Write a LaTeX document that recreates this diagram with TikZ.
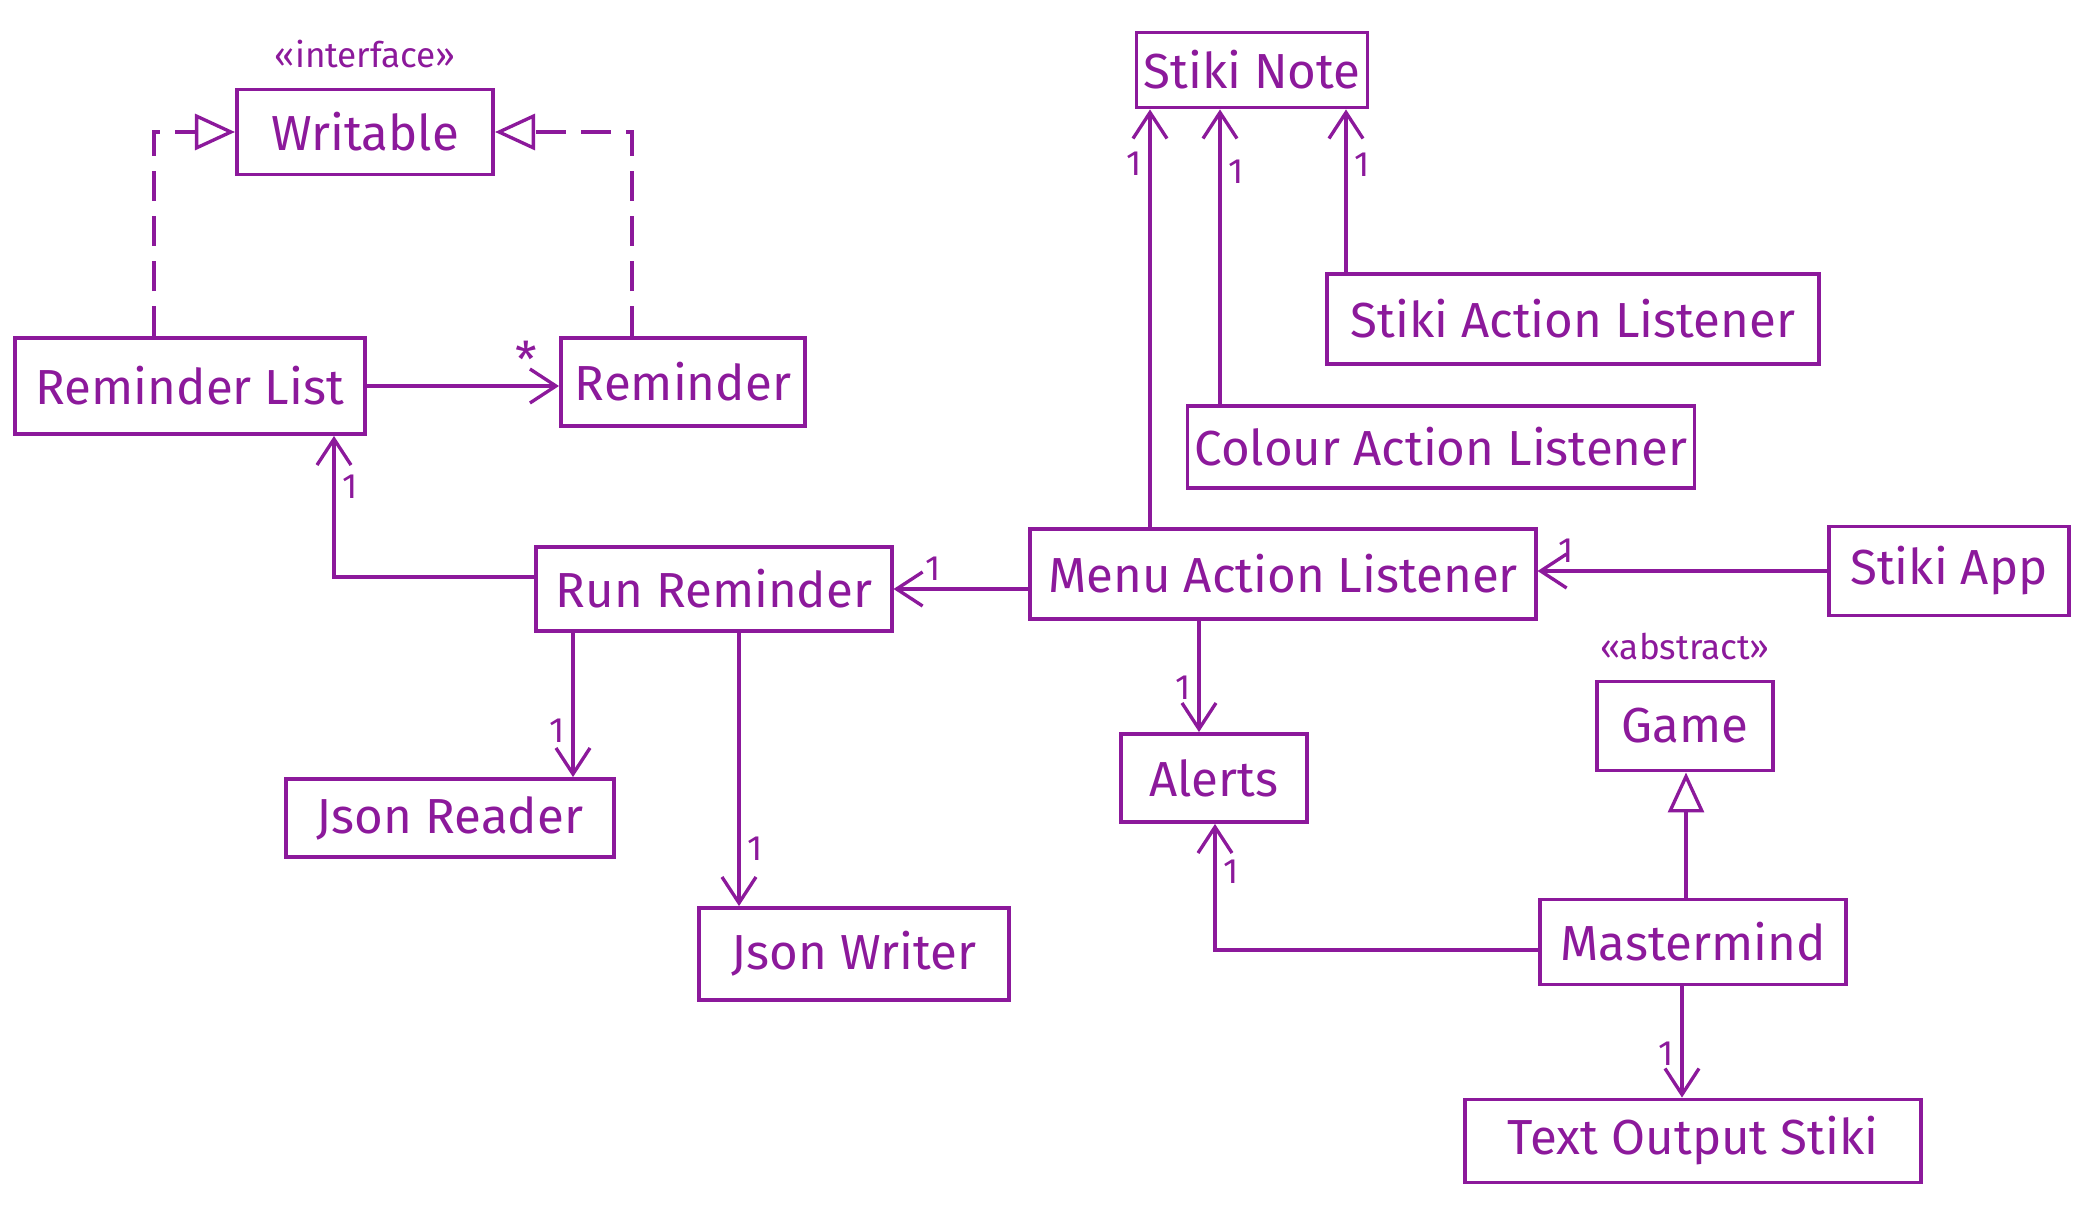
\documentclass[tikz,border=0pt]{standalone}
\usepackage{fontspec}
\setmainfont{Fira Sans}
\usetikzlibrary{arrows.meta,positioning}
\definecolor{umlpurple}{RGB}{140,25,155}

\begin{document}
\begin{tikzpicture}[x=0.01cm,y=-0.01cm]
        \tikzstyle{cls}=[draw=umlpurple, line width=1.1pt, text=umlpurple, inner sep=2pt, font=\fontsize{14}{17}\selectfont]
        \tikzstyle{stereo}=[text=umlpurple, inner sep=1pt, font=\fontsize{10}{12}\selectfont]
        \tikzstyle{mult}=[text=umlpurple, inner sep=2pt, font=\fontsize{10}{12}\selectfont]
        \tikzstyle{assoc}=[draw=umlpurple, line width=0.95pt, -{Straight Barb[length=2.6mm,width=3.4mm]}]
        \tikzstyle{inherit}=[draw=umlpurple, line width=0.95pt, -{Triangle[open,length=4mm,width=3.6mm,fill=white]}]
        \tikzstyle{real}=[inherit, dash pattern=on 3mm off 1.5mm]
        \useasboundingbox (0,0) rectangle (2096,1224);

        % reminder side
        \node[cls, minimum width=2.56cm, minimum height=0.85cm] (writable) at (365,132) {Writable};
        \node[stereo, above=1.5mm of writable] (writablest) {«interface»};
        \node[cls, minimum width=3.49cm, minimum height=0.96cm] (rlist) at (190,386) {Reminder List};
        \node[cls, minimum width=2.44cm, minimum height=0.88cm] (rem) at (683,382) {Reminder};
        \node[cls, minimum width=3.55cm, minimum height=0.84cm] (run) at (714,589) {Run Reminder};
        \node[cls, minimum width=3.27cm, minimum height=0.78cm] (jreader) at (450,818) {Json Reader};
        \node[cls, minimum width=3.10cm, minimum height=0.92cm] (jwriter) at (854,954) {Json Writer};

        % stiki side
        \node[cls, minimum width=2.27cm, minimum height=0.75cm] (note) at (1252,70) {Stiki Note};
        \node[cls, minimum width=4.92cm, minimum height=0.90cm] (sal) at (1573,319) {Stiki Action Listener};
        \node[cls, minimum width=5.00cm, minimum height=0.82cm] (cal) at (1441,447) {Colour Action Listener};
        \node[cls, minimum width=5.05cm, minimum height=0.90cm] (mal) at (1283,574) {Menu Action Listener};
        \node[cls, minimum width=2.40cm, minimum height=0.89cm] (app) at (1949,571) {Stiki App};
        \node[cls, minimum width=1.86cm, minimum height=0.88cm] (alerts) at (1214,778) {Alerts};
        \node[cls, minimum width=1.76cm, minimum height=0.89cm] (game) at (1685,726) {Game};
        \node[stereo, above=1.5mm of game] (gamest) {«abstract»};
        \node[cls, minimum width=3.05cm, minimum height=0.85cm] (mmind) at (1693,942) {Mastermind};
        \node[cls, minimum width=4.55cm, minimum height=0.83cm] (tos) at (1693,1141) {Text Output Stiki};

        % realization and inheritance
        \draw[real] (154,0 |- rlist.north) |- (writable.west);
        \draw[real] (632,0 |- rem.north) |- (writable.east);
        \draw[inherit] (1686,0 |- mmind.north) -- (1686,0 |- game.south);

        % associations
        \draw[assoc] (rlist.east) -- node[mult, pos=0.83, above, font=\fontsize{14}{16}\selectfont] {*} (rlist.east -| rem.west);
        \draw[assoc] ([yshift=1.2mm]run.west) -| node[mult, pos=0.82, right] {1} (334,0 |- rlist.south);
        \draw[assoc] (run.east -| mal.west) -- node[mult, pos=0.71, above] {1} (run.east);
        \draw[assoc] (app.west) -- node[mult, pos=0.9, above] {1} (app.west -| mal.east);
        \draw[assoc] (1150,0 |- mal.north) -- node[mult, pos=0.87, left] {1} (1150,0 |- note.south);
        \draw[assoc] (1220,0 |- cal.north) -- node[mult, pos=0.79, right] {1} (1220,0 |- note.south);
        \draw[assoc] (1346,0 |- sal.north) -- node[mult, pos=0.66, right] {1} (1346,0 |- note.south);
        \draw[assoc] (1199,0 |- mal.south) -- node[mult, pos=0.6, left] {1} (1199,0 |- alerts.north);
        \draw[assoc] (573,0 |- run.south) -- node[mult, pos=0.68, left] {1} (573,0 |- jreader.north);
        \draw[assoc] (739,0 |- run.south) -- node[mult, pos=0.79, right] {1} (739,0 |- jwriter.north);
        \draw[assoc] ([yshift=-0.8mm]mmind.west) -| node[mult, pos=0.81, right] {1} (1215,0 |- alerts.south);
        \draw[assoc] (1682,0 |- mmind.south) -- node[mult, pos=0.61, left] {1} (1682,0 |- tos.north);
    \end{tikzpicture}
\end{document}
